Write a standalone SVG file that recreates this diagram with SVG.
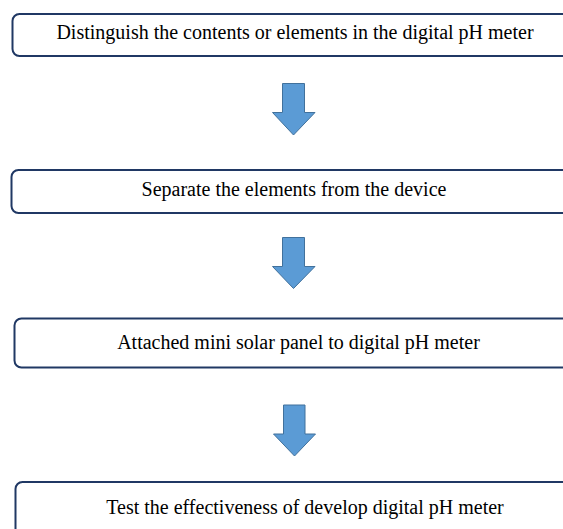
<svg xmlns="http://www.w3.org/2000/svg" width="563" height="529" viewBox="0 0 563 529">
<style>
.box{fill:#ffffff;stroke:#203864;stroke-width:2}
.lbl{font-family:"Liberation Serif","Times New Roman",serif;font-size:20px;fill:#000000;text-anchor:middle}
.arr{fill:#5b9bd5;stroke:#41719c;stroke-width:1}
</style>
<rect width="563" height="529" fill="#ffffff"/>
<g id="node1"><rect class="box" x="12.5" y="14" width="570" height="42" rx="7"/><text class="lbl" x="295" y="39">Distinguish the contents or elements in the digital pH meter</text></g>
<g id="node2"><rect class="box" x="11.5" y="170" width="570" height="43" rx="7"/><text class="lbl" x="294" y="196">Separate the elements from the device</text></g>
<g id="node3"><rect class="box" x="14.5" y="318.5" width="570" height="49" rx="7"/><text class="lbl" x="298.5" y="348.5">Attached mini solar panel to digital pH meter</text></g>
<g id="node4"><rect class="box" x="15.5" y="482" width="570" height="60" rx="7"/><text class="lbl" x="305" y="514">Test the effectiveness of develop digital pH meter</text></g>
<g id="connectors">
<polygon class="arr" points="282.5,83.5 304.5,83.5 304.5,112.5 315,112.5 293.5,135 272.5,112.5 282.5,112.5"/>
<polygon class="arr" points="282.5,237.5 304.5,237.5 304.5,266.5 315,266.5 293.5,288.5 272.5,266.5 282.5,266.5"/>
<polygon class="arr" points="283.5,405 305,405 305,434 315.5,434 294.5,456 273.5,434 283.5,434"/>
</g>
</svg>
